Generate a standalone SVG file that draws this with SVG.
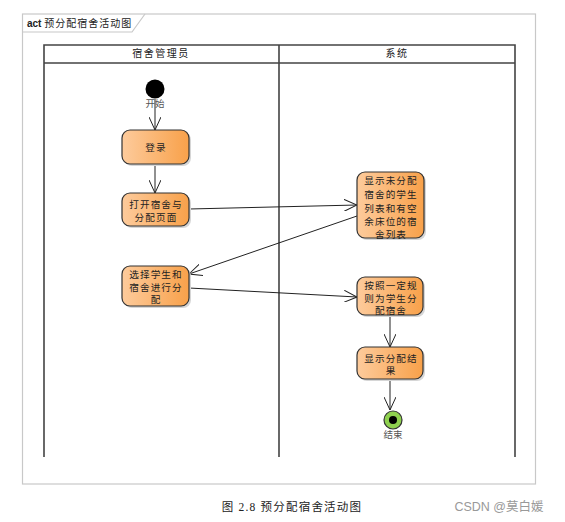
<svg xmlns="http://www.w3.org/2000/svg" width="565" height="522" viewBox="0 0 565 522">
<defs>
  <linearGradient id="og" x1="0" y1="0" x2="1" y2="0">
    <stop offset="0" stop-color="#fdcb9c"/>
    <stop offset="1" stop-color="#f8a14a"/>
  </linearGradient>
  <marker id="arr" viewBox="0 0 14 12" refX="13" refY="6" markerWidth="14" markerHeight="12" markerUnits="userSpaceOnUse" orient="auto">
    <path d="M0,0 L13,6 L0,12" fill="none" stroke="#222" stroke-width="1"/>
  </marker>
</defs>
<style>
  .frame{fill:none;stroke:#c8c8c8;stroke-width:1.2}
  .lane{fill:none;stroke:#444;stroke-width:1.6}
  .node rect.shadow{fill:#d6d6d6}
  .act{fill:url(#og);stroke:#333;stroke-width:1.2}
  .t{font-family:"Liberation Serif","Noto Sans CJK SC",serif;font-size:9.6px;fill:#222;text-anchor:middle;letter-spacing:1.1px}
  .h{font-family:"Liberation Serif","Noto Sans CJK SC",serif;font-size:10px;fill:#222;text-anchor:middle;letter-spacing:1.5px}
  .lbl{font-family:"Liberation Serif","Noto Sans CJK SC",serif;font-size:9.5px;fill:#555;text-anchor:middle}
  .edge{fill:none;stroke:#222;stroke-width:1;marker-end:url(#arr)}
</style>
<rect width="565" height="522" fill="#fff"/>
<g id="frame">
  <rect class="frame" x="22.5" y="14" width="513" height="470"/>
  <path class="frame" d="M22.5,32 H132 L145,14"/>
  <text x="27" y="27" style="font-family:'Liberation Sans','Noto Sans CJK SC',sans-serif;font-size:10px;font-weight:bold;fill:#222">act <tspan style="font-family:'Liberation Serif','Noto Sans CJK SC',serif;font-weight:normal;letter-spacing:1px">预分配宿舍活动图</tspan></text>
</g>
<g id="lanes">
  <path class="lane" d="M44,457 V45 H515 V457 M44,63 H515 M279,45 V457"/>
  <text class="h" x="161" y="57">宿舍管理员</text>
  <text class="h" x="397" y="57">系统</text>
</g>
<g id="connectors">
  <line class="edge" x1="155" y1="99" x2="155" y2="130"/>
  <line class="edge" x1="155" y1="164" x2="155" y2="193"/>
  <line class="edge" x1="189" y1="209" x2="357" y2="205"/>
  <line class="edge" x1="357" y1="216" x2="189" y2="274"/>
  <line class="edge" x1="189" y1="288" x2="357" y2="297"/>
  <line class="edge" x1="390" y1="315" x2="390" y2="347"/>
  <line class="edge" x1="390" y1="379" x2="390" y2="410"/>
</g>
<g id="start">
  <circle cx="155" cy="89" r="9.5" fill="#000"/>
  <text class="lbl" x="155" y="107">开始</text>
</g>
<g id="login" class="node">
  <rect class="shadow" x="124" y="132" width="67" height="34" rx="8"/>
  <rect class="act" x="122" y="130" width="67" height="34" rx="8"/>
  <text class="t" x="156" y="151">登录</text>
</g>
<g id="open" class="node">
  <rect class="shadow" x="124" y="195" width="67" height="33" rx="8"/>
  <rect class="act" x="122" y="193" width="67" height="33" rx="8"/>
  <text class="t" x="156" y="208">打开宿舍与</text>
  <text class="t" x="156" y="221">分配页面</text>
</g>
<g id="select" class="node">
  <rect class="shadow" x="124" y="268" width="67" height="40" rx="8"/>
  <rect class="act" x="122" y="266" width="67" height="40" rx="8"/>
  <text class="t" x="156" y="278">选择学生和</text>
  <text class="t" x="156" y="291">宿舍进行分</text>
  <text class="t" x="156" y="303">配</text>
</g>
<g id="showlist" class="node">
  <rect class="shadow" x="359" y="174" width="67" height="66" rx="8"/>
  <rect class="act" x="357" y="172" width="67" height="66" rx="8"/>
  <text class="t" x="391" y="184">显示未分配</text>
  <text class="t" x="391" y="198">宿舍的学生</text>
  <text class="t" x="391" y="212">列表和有空</text>
  <text class="t" x="391" y="225">余床位的宿</text>
  <text class="t" x="391" y="238">舍列表</text>
</g>
<g id="assign" class="node">
  <rect class="shadow" x="359" y="279" width="66" height="38" rx="8"/>
  <rect class="act" x="357" y="277" width="66" height="38" rx="8"/>
  <text class="t" x="391" y="289">按照一定规</text>
  <text class="t" x="391" y="302">则为学生分</text>
  <text class="t" x="391" y="314">配宿舍</text>
</g>
<g id="result" class="node">
  <rect class="shadow" x="359" y="349" width="66" height="32" rx="8"/>
  <rect class="act" x="357" y="347" width="66" height="32" rx="8"/>
  <text class="t" x="391" y="362">显示分配结</text>
  <text class="t" x="391" y="374">果</text>
</g>
<g id="end">
  <circle cx="393" cy="420" r="9" fill="#8fd14f" stroke="#333" stroke-width="1.2"/>
  <circle cx="393" cy="420" r="4" fill="#000"/>
  <text class="lbl" x="393" y="438">结束</text>
</g>
<g id="caption">
  <text x="292" y="511" style="font-family:'Liberation Serif','Noto Sans CJK SC',serif;font-size:11.5px;fill:#222;text-anchor:middle;letter-spacing:1.2px">图 2.8  预分配宿舍活动图</text>
  <text x="499" y="511" style="font-family:'Liberation Sans','Noto Sans CJK SC',sans-serif;font-size:12.5px;fill:#999;text-anchor:middle">CSDN @莫白媛</text>
</g>
</svg>
